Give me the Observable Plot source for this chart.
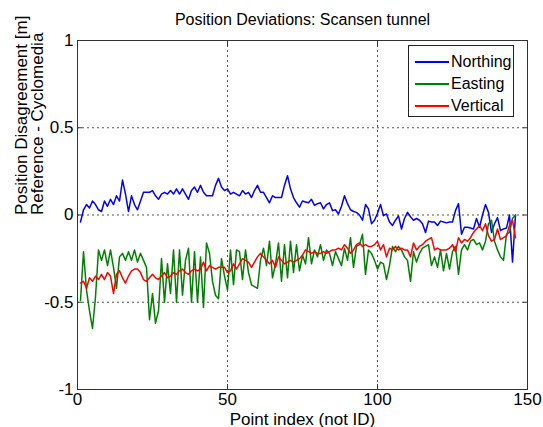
<!DOCTYPE html>
<html>
<head>
<meta charset="utf-8">
<script src="https://cdn.jsdelivr.net/npm/d3@7"></script>
<script src="https://cdn.jsdelivr.net/npm/@observablehq/plot@0.6"></script>
<style>
  html, body { margin: 0; padding: 0; background: #fff; }
  #wrap { position: relative; width: 543px; height: 427px; font-family: Arial, "Liberation Sans", sans-serif; }
  #legend { position: absolute; left: 408px; top: 45px; width: 104px; height: 70px; border: 1px solid #222; background: #fff; }
  .row { position: absolute; left: 6px; height: 20px; display: flex; align-items: center; font-size: 16px; color: #000; }
  .sw { width: 34px; height: 2px; margin-right: 2px; }
</style>
</head>
<body>
<div id="wrap"></div>
<script>
const title = "Position Deviations: Scansen tunnel";
const xLabel = "Point index (not ID)";
const yLabel1 = "Position Disagreement [m]";
const yLabel2 = "Reference - Cyclomedia";
const seriesNames = ["Northing", "Easting", "Vertical"];
const seriesColors = ["#0000ff", "#008000", "#ff0000"];
const xTicks = [0, 50, 100, 150];
const yTicks = [-1, -0.5, 0, 0.5, 1];
const yTickLabels = ["-1", "-0.5", "0", "0.5", "1"];

const northing = [-0.04,0.03,0.06,0.04,0.08,0.06,0.03,0.02,0.08,0.05,0.09,0.06,0.11,0.08,0.20,0.12,0.02,0.11,0.06,0.03,
0.08,0.13,0.13,0.13,0.14,0.11,0.09,0.12,0.13,0.12,0.14,0.12,0.15,0.12,0.15,0.12,0.09,0.14,0.16,0.13,
0.17,0.13,0.11,0.11,0.11,0.17,0.21,0.16,0.14,0.15,0.12,0.13,0.12,0.11,0.14,0.12,0.13,0.10,0.14,0.17,
0.13,0.13,0.10,0.07,0.11,0.10,0.10,0.10,0.17,0.225,0.15,0.10,0.07,0.045,0.08,0.075,0.07,0.09,0.055,0.065,
0.07,0.035,0.06,0.07,0.025,0.03,0.006,0.05,0.11,0.065,0.03,0.02,0.015,0.0,-0.03,0.06,0.035,-0.05,-0.03,0.01,
0.06,-0.004,0.006,-0.04,-0.06,-0.03,-0.005,-0.08,-0.02,0.015,-0.01,-0.03,-0.02,-0.03,-0.05,-0.10,-0.035,-0.04,-0.04,-0.06,
-0.035,-0.04,-0.045,-0.04,-0.04,0.025,0.065,-0.11,-0.07,-0.07,-0.075,-0.08,-0.02,-0.07,0.0,0.06,0.015,-0.10,-0.05,-0.015,
-0.09,-0.08,-0.075,0.0,-0.27,0.0];

const easting = [-0.49,-0.21,-0.43,-0.55,-0.65,-0.47,-0.20,-0.26,-0.20,-0.29,-0.20,-0.30,-0.42,-0.24,-0.22,-0.26,-0.21,-0.26,-0.20,-0.27,
-0.22,-0.26,-0.30,-0.60,-0.45,-0.62,-0.55,-0.25,-0.50,-0.28,-0.45,-0.20,-0.50,-0.20,-0.46,-0.26,-0.19,-0.50,-0.21,-0.50,
-0.24,-0.53,-0.16,-0.22,-0.38,-0.46,-0.48,-0.25,-0.35,-0.43,-0.20,-0.40,-0.20,-0.21,-0.37,-0.20,-0.33,-0.40,-0.41,-0.42,
-0.26,-0.19,-0.29,-0.15,-0.36,-0.28,-0.16,-0.38,-0.17,-0.36,-0.15,-0.33,-0.17,-0.32,-0.23,-0.28,-0.13,-0.28,-0.20,-0.24,
-0.17,-0.26,-0.20,-0.22,-0.29,-0.21,-0.25,-0.29,-0.19,-0.26,-0.13,-0.30,-0.18,-0.17,-0.11,-0.34,-0.20,-0.22,-0.26,-0.31,
-0.27,-0.28,-0.37,-0.29,-0.18,-0.21,-0.18,-0.20,-0.24,-0.26,-0.38,-0.21,-0.27,-0.22,-0.19,-0.18,-0.17,-0.29,-0.24,-0.30,
-0.20,-0.32,-0.22,-0.31,-0.21,-0.18,-0.34,-0.20,-0.17,-0.20,-0.15,-0.14,-0.17,-0.16,-0.20,-0.15,-0.05,-0.03,-0.15,-0.20,
-0.24,-0.26,-0.11,-0.10,-0.02,0.00];

const vertical = [-0.39,-0.38,-0.42,-0.36,-0.38,-0.35,-0.37,-0.34,-0.37,-0.33,-0.35,-0.45,-0.34,-0.32,-0.36,-0.39,-0.35,-0.32,-0.31,-0.31,
-0.33,-0.37,-0.38,-0.36,-0.34,-0.36,-0.37,-0.35,-0.33,-0.36,-0.35,-0.33,-0.34,-0.32,-0.31,-0.33,-0.34,-0.32,-0.31,-0.32,
-0.31,-0.27,-0.32,-0.29,-0.30,-0.31,-0.30,-0.30,-0.30,-0.33,-0.32,-0.28,-0.31,-0.28,-0.25,-0.26,-0.27,-0.30,-0.27,-0.24,
-0.22,-0.24,-0.26,-0.28,-0.26,-0.30,-0.24,-0.26,-0.28,-0.27,-0.26,-0.27,-0.26,-0.25,-0.23,-0.20,-0.21,-0.22,-0.21,-0.22,
-0.22,-0.21,-0.22,-0.21,-0.20,-0.20,-0.19,-0.20,-0.17,-0.19,-0.22,-0.20,-0.17,-0.16,-0.18,-0.17,-0.18,-0.18,-0.17,-0.15,
-0.20,-0.17,-0.24,-0.19,-0.20,-0.18,-0.20,-0.19,-0.20,-0.20,-0.24,-0.16,-0.20,-0.18,-0.17,-0.15,-0.14,-0.13,-0.20,-0.19,
-0.20,-0.20,-0.20,-0.19,-0.17,-0.21,-0.13,-0.16,-0.14,-0.15,-0.13,-0.10,-0.08,-0.06,-0.09,-0.05,-0.12,-0.15,-0.14,-0.08,
-0.14,-0.13,-0.12,-0.06,-0.03,-0.13];

const seriesValues = [northing, easting, vertical];
const rows = [];
seriesValues.forEach((vals, s) => vals.forEach((v, i) => rows.push({series: seriesNames[s], x: i + 1, y: v})));

const font = "Arial, 'Liberation Sans', sans-serif";
const chart = Plot.plot({
  width: 543,
  height: 427,
  marginLeft: 77,
  marginRight: 16,
  marginTop: 40,
  marginBottom: 38,
  style: {fontFamily: font, fontSize: "17px", background: "#fff", color: "#000", overflow: "visible"},
  x: {domain: [0, 150], label: null},
  y: {domain: [-1, 1], label: null},
  color: {domain: seriesNames, range: seriesColors},
  marks: [
    Plot.gridX(xTicks.slice(1, -1), {stroke: "#555", strokeOpacity: 1, strokeDasharray: "2,3", strokeWidth: 1}),
    Plot.gridY(yTicks.slice(1, -1), {stroke: "#555", strokeOpacity: 1, strokeDasharray: "2,3", strokeWidth: 1}),
    Plot.lineY(rows, {x: "x", y: "y", stroke: "series", strokeWidth: 1.5, z: "series"}),
    Plot.frame({stroke: "#333", strokeWidth: 1}),
    Plot.axisX(xTicks, {anchor: "bottom", tickSize: -5, text: null, stroke: "#333"}),
    Plot.axisX(xTicks, {anchor: "top", tickSize: -5, text: null, stroke: "#333"}),
    Plot.axisY(yTicks, {anchor: "left", tickSize: -5, text: null, stroke: "#333"}),
    Plot.axisY(yTicks, {anchor: "right", tickSize: -5, text: null, stroke: "#333"}),
    Plot.axisX(xTicks, {anchor: "bottom", tickSize: 0, tickPadding: 3, fontSize: 17, label: null}),
    Plot.axisY(yTicks, {anchor: "left", tickSize: 0, tickPadding: 4, fontSize: 17, label: null, tickFormat: (d) => yTickLabels[yTicks.indexOf(d)]}),
    Plot.text([title], {frameAnchor: "top", dy: -27, fontSize: 16, text: (d) => d}),
    Plot.text([xLabel], {frameAnchor: "bottom", dy: 35, fontSize: 17, text: (d) => d}),
    Plot.text([yLabel1], {frameAnchor: "left", dx: -56, rotate: -90, fontSize: 17, text: (d) => d}),
    Plot.text([yLabel2], {frameAnchor: "left", dx: -40, rotate: -90, fontSize: 17, text: (d) => d})
  ]
});
const wrap = document.getElementById("wrap");
wrap.appendChild(chart);

const legend = document.createElement("div");
legend.id = "legend";
seriesNames.forEach((name, i) => {
  const row = document.createElement("div");
  row.className = "row";
  row.style.top = (6 + i * 22) + "px";
  const sw = document.createElement("div");
  sw.className = "sw";
  sw.style.background = seriesColors[i];
  row.appendChild(sw);
  const t = document.createElement("span");
  t.textContent = name;
  row.appendChild(t);
  legend.appendChild(row);
});
wrap.appendChild(legend);
</script>
</body>
</html>
